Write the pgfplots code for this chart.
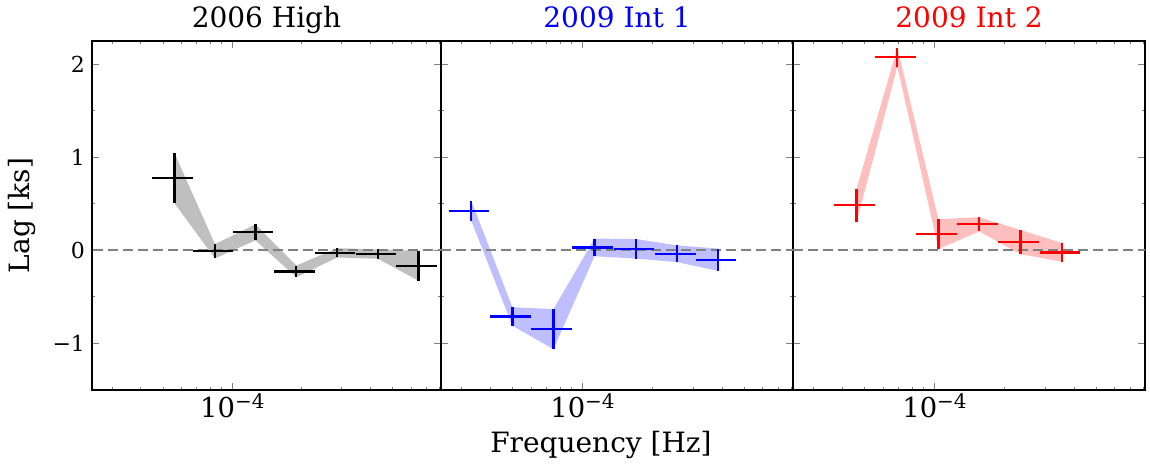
\documentclass[border=0pt]{standalone}
\usepackage{pgfplots}
\pgfplotsset{compat=1.18}
\usepgfplotslibrary{fillbetween}
\usepackage{fontspec}
\setmainfont{DejaVu Serif}

\pgfplotstableread{
x        y       ex       ey     lo      hi
5.6e-5   0.777   1.11e-5  0.27   0.507   1.047
8.4e-5  -0.010   1.65e-5  0.077 -0.087   0.067
1.26e-4  0.194   2.5e-5   0.086  0.108   0.280
1.90e-4 -0.226   3.8e-5   0.063 -0.289  -0.163
2.86e-4 -0.026   5.7e-5   0.05  -0.076   0.024
4.30e-4 -0.040   8.4e-5   0.05  -0.090   0.010
6.46e-4 -0.165   1.30e-4  0.16  -0.325  -0.005
}\dataA

\pgfplotstableread{
x        y       ex       ey     lo      hi
3.31e-5  0.426   0.65e-5  0.107  0.319   0.533
4.98e-5 -0.710   1.0e-5   0.10  -0.810  -0.610
7.49e-5 -0.846   1.5e-5   0.215 -1.061  -0.631
1.127e-4 0.032   2.22e-5  0.095 -0.063   0.127
1.70e-4  0.017   3.35e-5  0.105 -0.088   0.122
2.56e-4 -0.036   5.15e-5  0.09  -0.126   0.054
3.84e-4 -0.100   7.65e-5  0.12  -0.220   0.020
}\dataB

\pgfplotstableread{
x        y       ex       ey     lo      hi
4.61e-5  0.484   0.92e-5  0.18   0.304   0.664
6.91e-5  2.075   1.38e-5  0.10   1.975   2.175
1.04e-4  0.175   2.05e-5  0.16   0.015   0.335
1.56e-4  0.280   3.1e-5   0.077  0.203   0.357
2.35e-4  0.089   4.7e-5   0.13  -0.041   0.219
3.56e-4 -0.022   7.0e-5   0.10  -0.122   0.078
}\dataC

\pgfplotsset{
  every axis title shift=0pt,
  every axis/.append style={
    scale only axis,
    height=174.5pt,
    xmin=2.45e-5, xmax=8.1e-4,
    ymin=-1.5, ymax=2.25,
    xtick={1e-4},
    xticklabels={10\raisebox{4.5pt}{\fontsize{10}{10}\selectfont −4}},
    minor xtick={3e-5,4e-5,5e-5,6e-5,7e-5,8e-5,9e-5,2e-4,3e-4,4e-4,5e-4,6e-4,7e-4,8e-4},
    ytick={-1,0,1,2},
    minor ytick={-1.5,-0.5,0.5,1.5},
    tick align=inside,
    xtick pos=both, ytick pos=both,
    xticklabel pos=lower, yticklabel pos=left,
    major tick length=3.5pt,
    minor tick length=1.6pt,
    every tick/.append style={line width=0.5pt},
    axis line style={line width=0.8pt},
    yticklabel style={font=\fontsize{11}{13}\selectfont},
    xticklabel style={font=\fontsize{13.7}{15}\selectfont, anchor=base, yshift=-14pt},
    title style={font=\fontsize{14}{16}\selectfont, at={(axis description cs:0.5,1)}, anchor=base, yshift=6.5pt},
    label style={font=\fontsize{14}{16}\selectfont},
  },
}

\begin{document}
\begin{tikzpicture}
\begin{semilogxaxis}[at={(0pt,0pt)}, width=174.5pt,
  yticklabels={−1,0,1,2},
  title={2006 High},
  ylabel={Lag [ks]},
  ylabel style={at={(axis description cs:-0.2,0.5)}, anchor=center},
]
  \coordinate (SW) at (rel axis cs:0,0);
  \addplot[draw=none, name path=u1, forget plot] table[x=x, y=hi] {\dataA};
  \addplot[draw=none, name path=l1, forget plot] table[x=x, y=lo] {\dataA};
  \addplot[black!25, draw=none] fill between[of=u1 and l1];
  \addplot[gray, line width=1pt, dash pattern=on 5pt off 2.5pt] coordinates {(1e-5,0) (1e-3,0)};
  \addplot[draw=none, mark=none,
    error bars/.cd, x dir=both, x explicit, y dir=both, y explicit,
    error mark=none, error bar style={line width=1.15pt, draw=black}]
    table[x=x, y=y, x error=ex, y error=ey] {\dataA};
\end{semilogxaxis}
\begin{semilogxaxis}[at={(174.5pt,0pt)}, width=176pt,
  yticklabels={},
  title={2009 Int 1},
  title style={text=blue},
  xlabel={Frequency [Hz]},
  xlabel style={at={(axis description cs:0.4545,0)}, anchor=base, yshift=-31.5pt},
]
  \addplot[draw=none, name path=u2, forget plot] table[x=x, y=hi] {\dataB};
  \addplot[draw=none, name path=l2, forget plot] table[x=x, y=lo] {\dataB};
  \addplot[blue!25, draw=none] fill between[of=u2 and l2];
  \addplot[gray, line width=1pt, dash pattern=on 5pt off 2.5pt] coordinates {(1e-5,0) (1e-3,0)};
  \addplot[draw=none, mark=none,
    error bars/.cd, x dir=both, x explicit, y dir=both, y explicit,
    error mark=none, error bar style={line width=1.15pt, draw=blue}]
    table[x=x, y=y, x error=ex, y error=ey] {\dataB};
\end{semilogxaxis}
\begin{semilogxaxis}[at={(350.5pt,0pt)}, width=176pt,
  yticklabels={},
  title={2009 Int 2},
  title style={text=red},
]
  \coordinate (NE) at (rel axis cs:1,1);
  \addplot[draw=none, name path=u3, forget plot] table[x=x, y=hi] {\dataC};
  \addplot[draw=none, name path=l3, forget plot] table[x=x, y=lo] {\dataC};
  \addplot[red!25, draw=none] fill between[of=u3 and l3];
  \addplot[gray, line width=1pt, dash pattern=on 5pt off 2.5pt] coordinates {(1e-5,0) (1e-3,0)};
  \addplot[draw=none, mark=none,
    error bars/.cd, x dir=both, x explicit, y dir=both, y explicit,
    error mark=none, error bar style={line width=1.15pt, draw=red}]
    table[x=x, y=y, x error=ex, y error=ey] {\dataC};
\end{semilogxaxis}
\pgfresetboundingbox
\useasboundingbox ([xshift=-46pt, yshift=-37pt]SW) rectangle ([xshift=2.5pt, yshift=20.5pt]NE);
\end{tikzpicture}
\end{document}
